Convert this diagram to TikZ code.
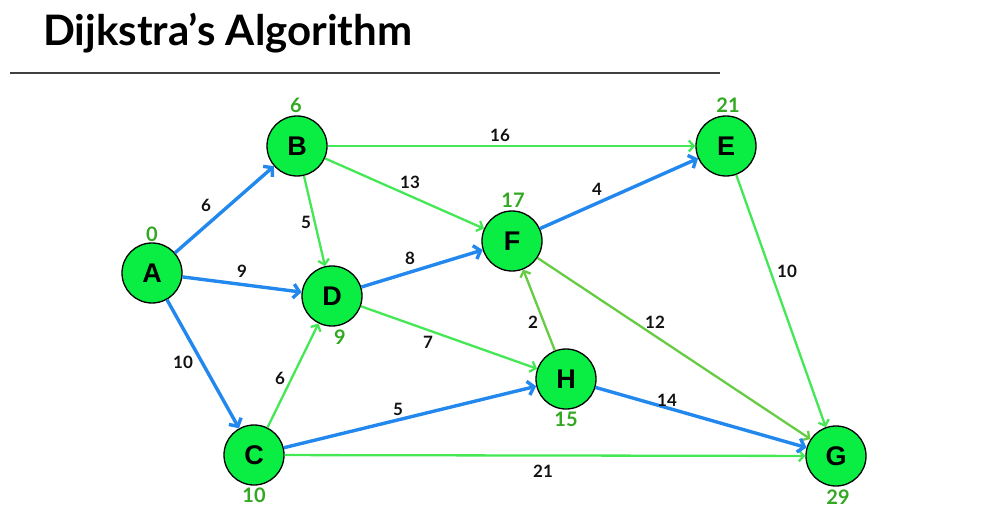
\documentclass[tikz,border=0pt]{standalone}
\usepackage{fontspec}
\setmainfont{Lato}
\newfontfamily\nodefont{Liberation Sans}
\usetikzlibrary{arrows.meta}
\definecolor{nodegreen}{HTML}{0AEE44}
\definecolor{edgegreen}{HTML}{44E855}
\definecolor{midgreen}{HTML}{66CC44}
\definecolor{edgeblue}{HTML}{2288EE}
\definecolor{distgreen}{HTML}{33A822}
\definecolor{labelblack}{HTML}{111111}
\begin{document}
\begin{tikzpicture}[x=1pt,y=-1pt,
  vertex/.style={circle, draw=black, line width=1.3pt, fill=nodegreen, minimum size=60pt, inner sep=0pt,
    font=\nodefont\bfseries\fontsize{27}{27}\selectfont},
  blueedge/.style={draw=edgeblue, line width=3.4pt, -{Straight Barb[length=6pt,width=14pt]}},
  greenedge/.style={draw=edgegreen, line width=2.3pt, -{Straight Barb[length=5pt,width=11pt]}},
  midedge/.style={draw=midgreen, line width=2.3pt, -{Straight Barb[length=5pt,width=11pt]}},
  wlabel/.style={text=labelblack, font=\bfseries\fontsize{17}{17}\selectfont, inner sep=0pt},
  dlabel/.style={text=distgreen, font=\bfseries\fontsize{20}{20}\selectfont, inner sep=0pt},
  titletext/.style={anchor=base west, inner sep=0pt, font=\bfseries\fontsize{42}{44}\selectfont},
  rule/.style={draw=black!75, line width=1.5pt}
]
\useasboundingbox (0,0) rectangle (1007,532);

% title
\node[titletext] (title) at (43,46) {Dijkstra’s Algorithm};
\coordinate (ruleL) at (10,73);
\coordinate (ruleR) at (720,73);
\draw[rule] (ruleL) -- (ruleR);

% vertices
\node[vertex] (A) at (152,273) {A};
\node[vertex] (B) at (297,146) {B};
\node[vertex] (C) at (254,455) {C};
\node[vertex] (D) at (332,296) {D};
\node[vertex] (E) at (726,146) {E};
\node[vertex] (F) at (512,241) {F};
\node[vertex] (G) at (836,456) {G};
\node[vertex] (H) at (566,379) {H};

% green edges
\draw[greenedge] (B) -- (E);
\draw[greenedge] (B) -- (F);
\draw[greenedge] (B) -- (D);
\draw[greenedge] (D) -- (H);
\draw[greenedge] (C) -- (D);
\draw[greenedge] (C) -- (G);
\draw[greenedge] (E) -- (G);
\draw[midedge] (H) -- (F);
\draw[midedge] (F) -- (G);

% blue edges
\draw[blueedge] (A) -- (B);
\draw[blueedge] (A) -- (D);
\draw[blueedge] (A) -- (C);
\draw[blueedge] (D) -- (F);
\draw[blueedge] (F) -- (E);
\draw[blueedge] (C) -- (H);
\draw[blueedge] (H) -- (G);

% weights
\node[wlabel] (wAB) at (206,205) {6};
\node[wlabel] (wAD) at (242,271) {9};
\node[wlabel] (wAC) at (183,362) {10};
\node[wlabel] (wBD) at (306,222) {5};
\node[wlabel] (wBE) at (500,135) {16};
\node[wlabel] (wBF) at (410,182) {13};
\node[wlabel] (wDF) at (410,258) {8};
\node[wlabel] (wFE) at (597,189) {4};
\node[wlabel] (wEG) at (787,271) {10};
\node[wlabel] (wDH) at (428,342) {7};
\node[wlabel] (wHF) at (533,322) {2};
\node[wlabel] (wFG) at (655,322) {12};
\node[wlabel] (wCD) at (280,378) {6};
\node[wlabel] (wCH) at (398,409) {5};
\node[wlabel] (wHG) at (667,400) {14};
\node[wlabel] (wCG) at (543,471) {21};

% distances
\node[dlabel] (dA) at (152,234) {0};
\node[dlabel] (dB) at (296,105) {6};
\node[dlabel] (dD) at (340,337) {9};
\node[dlabel] (dC) at (254,495) {10};
\node[dlabel] (dE) at (728,105) {21};
\node[dlabel] (dF) at (513,200) {17};
\node[dlabel] (dH) at (566,419) {15};
\node[dlabel] (dG) at (838,497) {29};
\end{tikzpicture}
\end{document}
